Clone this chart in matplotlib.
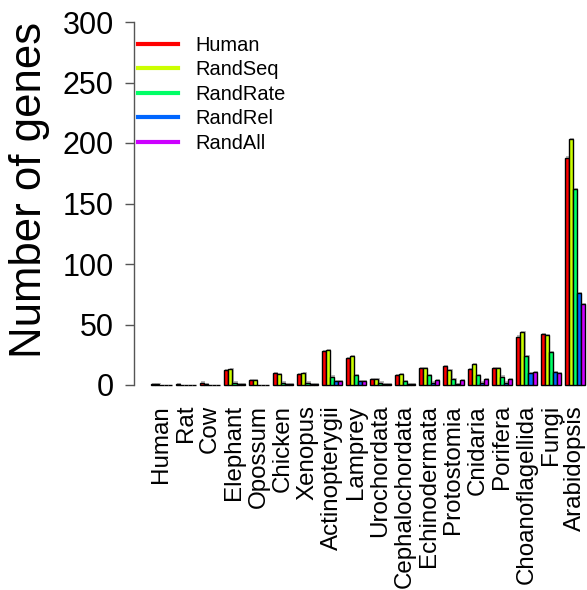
import matplotlib
matplotlib.use("Agg")
import matplotlib.pyplot as plt
import matplotlib.patheffects as pe
import numpy as np

plt.rcParams['font.family'] = ['Liberation Sans', 'DejaVu Sans']

taxa = ["Human", "Rat", "Cow", "Elephant", "Opossum", "Chicken", "Xenopus",
        "Actinopterygii", "Lamprey", "Urochordata", "Cephalochordata",
        "Echinodermata", "Protostomia", "Cnidaria", "Porifera",
        "Choanoflagellida", "Fungi", "Arabidopsis"]

series_names = ["Human", "RandSeq", "RandRate", "RandRel", "RandAll"]

human    = [1, 1, 2, 12, 4, 10, 9, 28, 22, 5, 8, 14, 16, 13, 14, 40, 42, 188]
randseq  = [1, 0, 1, 13, 4, 9, 10, 29, 24, 5, 9, 14, 12, 17, 14, 44, 41, 203]
randrate = [0, 0, 0, 2, 0, 2, 2, 7, 8, 2, 3, 8, 5, 8, 7, 24, 27, 162]
randrel  = [0, 0, 0, 1, 0, 1, 1, 3, 3, 1, 1, 2, 1, 2, 2, 10, 11, 76]
randall  = [0, 0, 0, 1, 0, 1, 1, 3, 3, 1, 1, 4, 4, 5, 5, 11, 10, 67]

colors = ["#FF0000", "#CCFF00", "#00FF66", "#0066FF", "#CC00FF"]

W, H = 587, 590
fig = plt.figure(figsize=(W / 100, H / 100), dpi=100)

# plotting region in pixel terms
left_px, bottom_px, top_px = 134, 391.05, 15.95
ax = fig.add_axes([left_px / W, (H - bottom_px) / H,
                   (W - left_px) / W, (bottom_px - top_px) / H])

series = [human, randseq, randrate, randrel, randall]
n_groups = len(taxa)
group_starts = 1 + 6 * np.arange(n_groups)   # one empty slot between groups

shadow = [pe.SimplePatchShadow(offset=(0.8, 0.8), shadow_rgbFace='#9a9a9a', alpha=0.7),
          pe.Normal()]

for j, (vals, col) in enumerate(zip(series, colors)):
    bars = ax.bar(group_starts + j, vals, width=1.0, align='edge',
                  color=col, edgecolor='black', linewidth=1.0,
                  label=series_names[j], clip_on=False)
    for b in bars:
        b.set_path_effects(shadow)

ax.set_xlim(-3.28, -3.28 + (W - left_px) / 4.055)
ax.set_ylim(-5, 305)

for s in ["top", "right", "bottom"]:
    ax.spines[s].set_visible(False)
ax.spines["left"].set_bounds(0, 300)
ax.spines["left"].set_color("#555555")
ax.spines["left"].set_linewidth(1.0)

ax.set_yticks(np.arange(0, 301, 50))
ax.tick_params(axis='y', length=6.5, width=1.0, color="#555555",
               labelsize=22, pad=8)

ax.set_xticks(group_starts + 2.5)
ax.set_xticklabels(taxa, rotation=90, fontsize=17.4, va='top', ha='center')
ax.tick_params(axis='x', length=0, pad=10)

fig.text(30 / W, (H - 190) / H, "Number of genes", rotation=90,
         fontsize=31.5, ha='center', va='center')

handles = [plt.Line2D([], [], color=c, linewidth=3.0) for c in colors]
leg = fig.legend(handles, series_names, loc='upper left',
                 bbox_to_anchor=(138 / W, (H - 36) / H),
                 frameon=False, fontsize=14.4, handlelength=2.0,
                 handletextpad=0.85, labelspacing=0.27, borderpad=0,
                 borderaxespad=0)

fig.savefig("out.png", dpi=100)
